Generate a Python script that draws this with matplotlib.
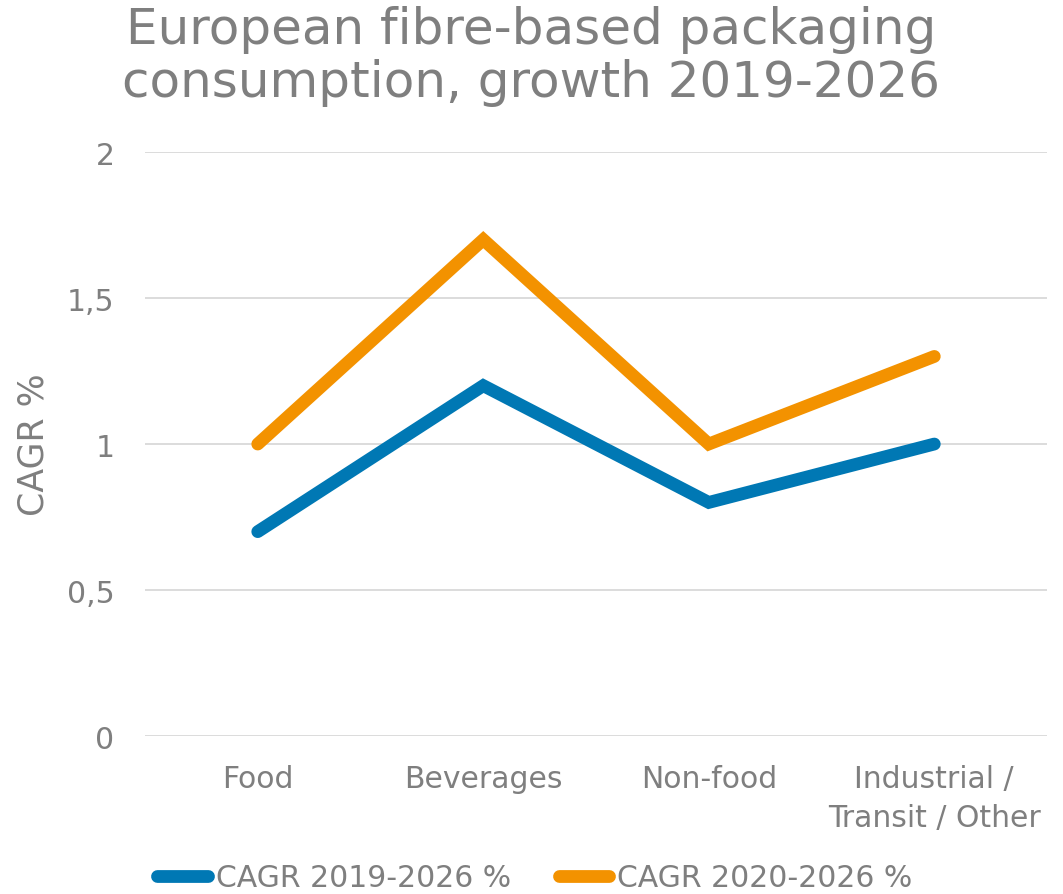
"""European fibre-based packaging consumption growth, line chart."""

import matplotlib
matplotlib.use("Agg")
import matplotlib.pyplot as plt
import numpy as np

categories = ["Food", "Beverages", "Non-food", "Industrial /\nTransit / Other"]
cagr_2019_2026 = [0.7, 1.2, 0.8, 1.0]
cagr_2020_2026 = [1.0, 1.7, 1.0, 1.3]
y_ticks = [0, 0.5, 1, 1.5, 2]
y_tick_labels = ["0", "0,5", "1", "1,5", "2"]

BLUE = "#0078B4"
ORANGE = "#F39200"
GREY = "#7F7F7F"
GRID = "#D9D9D9"

plt.rcParams["font.family"] = ["DejaVu Sans"]

fig = plt.figure(figsize=(10.63, 8.95), dpi=100)
ax = fig.add_axes([0.1364, 0.1765, 0.8486, 0.6525])

x = np.arange(len(categories))
ax.plot(x, cagr_2019_2026, color=BLUE, lw=9.2, solid_capstyle="round",
        solid_joinstyle="miter", label="CAGR 2019-2026 %")
ax.plot(x, cagr_2020_2026, color=ORANGE, lw=9.2, solid_capstyle="round",
        solid_joinstyle="miter", label="CAGR 2020-2026 %")

ax.set_xlim(-0.5, len(categories) - 0.5)
ax.set_ylim(0, 2)
ax.set_yticks(y_ticks)
ax.set_yticklabels(y_tick_labels)
ax.set_xticks(x)
ax.set_xticklabels(categories, linespacing=1.45)
ax.tick_params(axis="both", length=0, labelsize=21.5, colors=GREY)
ax.tick_params(axis="y", pad=22)
ax.tick_params(axis="x", pad=20)
ax.grid(axis="y", color=GRID, lw=1.3)
ax.set_axisbelow(True)
for spine in ax.spines.values():
    spine.set_visible(False)

ax.set_ylabel("CAGR %", fontsize=25, color=GREY, labelpad=12)
fig.text(0.5, 0.993, "European fibre-based packaging\nconsumption, growth 2019-2026",
         ha="center", va="top", fontsize=36, color=GREY, linespacing=1.12)

fig.legend(loc="center", bbox_to_anchor=(0.503, 0.018), ncol=2, frameon=False,
           fontsize=21.5, handlelength=1.7, handletextpad=0.25, columnspacing=1.6,
           labelcolor=GREY)

fig.savefig("out.png", dpi=100)
